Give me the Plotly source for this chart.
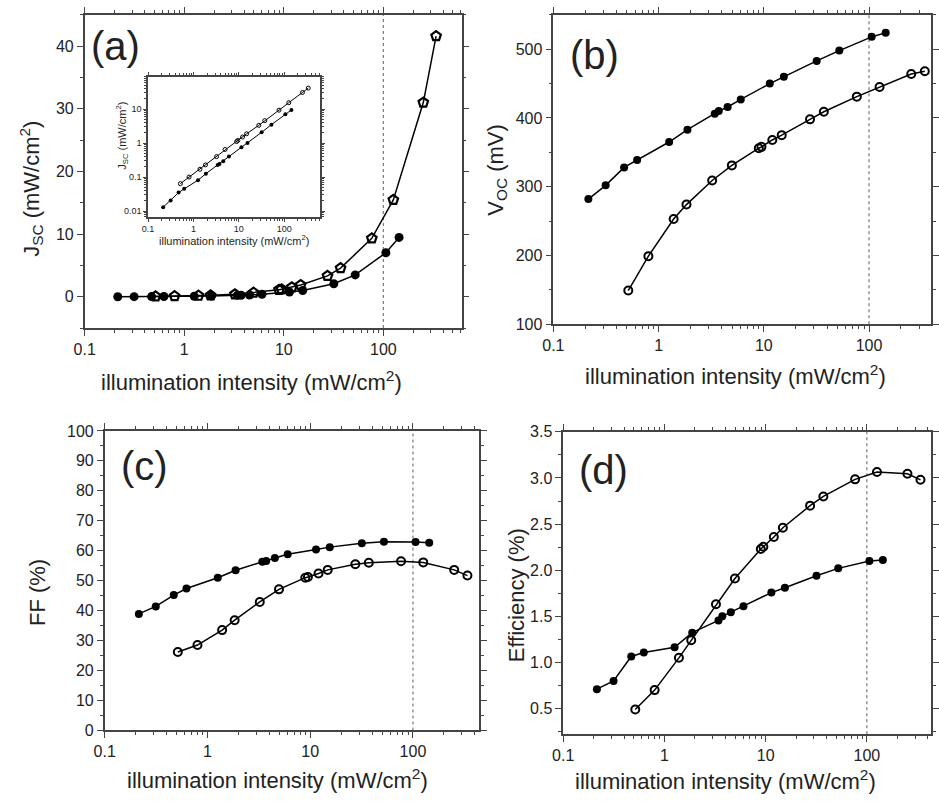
import plotly.graph_objects as go

# ---------------- data ----------------
x_filled = [0.215, 0.314, 0.47, 0.625, 1.26, 1.88, 3.42, 3.73, 4.53, 6.04, 11.4, 15.5, 31.8, 52.2, 106, 144]
x_open = [0.515, 0.80, 1.39, 1.84, 3.23, 4.97, 8.96, 9.5, 12.05, 14.8, 27.5, 37.2, 76.6, 126, 252, 339]

jsc_filled = [0.013, 0.0205, 0.035, 0.045, 0.081, 0.126, 0.228, 0.243, 0.29, 0.40, 0.76, 1.0, 2.08, 3.49, 7.03, 9.48]
jsc_open = [0.064, 0.10, 0.17, 0.228, 0.40, 0.65, 1.11, 1.2, 1.51, 1.88, 3.33, 4.58, 9.32, 15.47, 31.0, 41.6]

voc_filled = [282, 302, 328, 339, 365, 383, 406, 410, 416, 427, 450, 460, 483, 498, 518, 524]
voc_open = [149, 199, 253, 274, 309, 331, 356, 358, 368, 375, 398, 409, 431, 445, 464, 468]

ff_filled = [38.9, 41.4, 45.2, 47.4, 51.0, 53.5, 56.3, 56.6, 57.6, 58.8, 60.4, 61.2, 62.5, 63.0, 62.9, 62.7]
ff_open = [26.2, 28.5, 33.5, 36.8, 42.9, 47.1, 51.0, 51.2, 52.4, 53.6, 55.5, 56.0, 56.5, 56.1, 53.6, 51.7]

eff_filled = [0.71, 0.80, 1.065, 1.107, 1.164, 1.323, 1.456, 1.50, 1.545, 1.61, 1.757, 1.81, 1.94, 2.02, 2.10, 2.11]
eff_open = [0.49, 0.70, 1.05, 1.24, 1.63, 1.91, 2.23, 2.255, 2.36, 2.46, 2.70, 2.80, 2.985, 3.065, 3.045, 2.98]

x_ticks = [0.1, 1, 10, 100]
x_ticktext = ["0.1", "1", "10", "100"]
inset_y_ticks = [0.01, 0.1, 1, 10]
inset_y_ticktext = ["0.01", "0.1", "1", "10"]
x_title = "illumination intensity (mW/cm<sup>2</sup>)"

W, H = 939, 807
FONT = "Liberation Sans, Arial, sans-serif"
TXT = "#222222"
AX = "#444444"


def px(x):
    return x / W


def py(y):
    return 1 - y / H


fig = go.Figure()


def add_pair(xa, ya, xf, yf, xo, yo, size, lw, open_symbol="circle-open", osize=None, olw=2):
    fig.add_trace(go.Scatter(x=xf, y=yf, xaxis=xa, yaxis=ya, mode="lines+markers",
                             line=dict(color="black", width=lw),
                             marker=dict(symbol="circle", size=size, color="black"),
                             showlegend=False))
    fig.add_trace(go.Scatter(x=xo, y=yo, xaxis=xa, yaxis=ya, mode="lines+markers",
                             line=dict(color="black", width=lw),
                             marker=dict(symbol=open_symbol, size=osize or size, color="black",
                                         line=dict(width=olw, color="black")),
                             showlegend=False))


add_pair("x", "y", x_filled, jsc_filled, x_open, jsc_open, 9, 1.5, "pentagon-open", 10, 2.2)
add_pair("x2", "y2", x_filled, voc_filled, x_open, voc_open, 8, 1.5)
add_pair("x3", "y3", x_filled, ff_filled, x_open, ff_open, 8, 1.5)
add_pair("x4", "y4", x_filled, eff_filled, x_open, eff_open, 8, 1.5)
add_pair("x5", "y5", x_filled, jsc_filled, x_open, jsc_open, 4, 1, "circle-open", 4, 1)


def xaxis(dom, rng, anchor, fsize=16, tlen=6, mlen=3):
    return dict(type="log", domain=dom, range=rng, anchor=anchor,
                tickmode="array", tickvals=x_ticks, ticktext=x_ticktext,
                ticks="outside", ticklen=tlen, tickwidth=1.2, tickcolor=AX,
                minor=dict(ticks="outside", ticklen=mlen, tickwidth=1, tickcolor=AX,
                           tickvals=[m * d for d in [0.1, 1, 10, 100] for m in range(2, 10)]),
                showline=True, linecolor=AX, linewidth=1.5, mirror="ticks",
                showgrid=False, zeroline=False,
                tickfont=dict(size=fsize, color=TXT, family=FONT))


def yaxis(dom, rng, anchor, dtick, minor_dtick, fsize=16, ttype="linear", tickvals=None, ticktext=None,
          tlen=6, mlen=3, fmt=None):
    d = dict(type=ttype, domain=dom, range=rng, anchor=anchor,
             ticks="outside", ticklen=tlen, tickwidth=1.2, tickcolor=AX,
             showline=True, linecolor=AX, linewidth=1.5, mirror="ticks",
             showgrid=False, zeroline=False,
             tickfont=dict(size=fsize, color=TXT, family=FONT))
    if fmt:
        d["tickformat"] = fmt
    if tickvals is not None:
        d.update(tickmode="array", tickvals=tickvals, ticktext=ticktext)
        d["minor"] = dict(ticks="outside", ticklen=mlen, tickwidth=1, tickcolor=AX,
                          tickvals=minor_dtick)
    else:
        d.update(dtick=dtick, tick0=0)
        d["minor"] = dict(ticks="outside", ticklen=mlen, tickwidth=1, tickcolor=AX, dtick=minor_dtick)
    return d


fig.update_layout(
    width=W, height=H, margin=dict(l=0, r=0, t=0, b=0),
    paper_bgcolor="white", plot_bgcolor="white",
    font=dict(family=FONT, color=TXT),
    xaxis=xaxis([px(74.7), px(457)], [-1, 2.787], "y"),
    yaxis=yaxis([py(327), py(7)], [-5, 45], "x", 10, 5),
    xaxis2=xaxis([px(550), px(933)], [-1, 2.59], "y2"),
    yaxis2=yaxis([py(323), py(7)], [100, 550], "x2", 100, 50),
    xaxis3=xaxis([px(95), px(475)], [-1, 2.647], "y3"),
    yaxis3=yaxis([py(738), py(432)], [0, 100], "x3", 10, 5),
    xaxis4=xaxis([px(560), px(933)], [-1, 2.635], "y4"),
    yaxis4=yaxis([py(742), py(433)], [0.22, 3.5], "x4", 0.5, 0.25, fmt=".1f"),
    xaxis5=xaxis([px(139), px(313.3)], [-1, 2.787], "y5", fsize=9, tlen=3, mlen=2),
    yaxis5=yaxis([py(213.3), py(70)], [-2.17, 1.96], "x5", None,
                 [m * d for d in [0.001, 0.01, 0.1, 1, 10] for m in range(2, 10)],
                 fsize=9, ttype="log", tickvals=inset_y_ticks,
                 ticktext=inset_y_ticktext, tlen=3, mlen=2),
)

# dotted reference lines at 100 mW/cm2
for xr, yr in [("x", "y"), ("x2", "y2"), ("x3", "y3"), ("x4", "y4"), ("x5", "y5")]:
    fig.add_shape(type="line", xref=xr, yref=yr + " domain", x0=100, x1=100, y0=0, y1=1,
                  line=dict(color="#777777", width=1.2, dash="dot"), layer="below")

ann = []
# panel labels
for txt, x, y in [("(a)", 106, 39), ("(b)", 592, 48), ("(c)", 135, 468), ("(d)", 601, 472)]:
    ann.append(dict(text=txt, x=px(x), y=py(y), xref="paper", yref="paper", showarrow=False,
                    xanchor="center", yanchor="middle", font=dict(size=40, color=TXT, family=FONT)))
# x titles
for x, y in [(244, 381), (735, 375), (270, 788), (725, 789)]:
    ann.append(dict(text=x_title, x=px(x), y=py(y), xref="paper", yref="paper", showarrow=False,
                    xanchor="center", yanchor="middle", font=dict(size=22, color=TXT, family=FONT)))
# y titles
for txt, x, y in [("J<sub>SC</sub> (mW/cm<sup>2</sup>)", 20, 185), ("V<sub>OC</sub> (mV)", 492, 165),
                  ("FF (%)", 27, 597), ("Efficiency (%)", 512, 600)]:
    ann.append(dict(text=txt, x=px(x), y=py(y), xref="paper", yref="paper", showarrow=False,
                    textangle=-90, xanchor="center", yanchor="middle",
                    font=dict(size=22, color=TXT, family=FONT)))
# inset titles
ann.append(dict(text=x_title, x=px(226), y=py(237), xref="paper", yref="paper", showarrow=False,
                xanchor="center", yanchor="middle", font=dict(size=11, color=TXT, family=FONT)))
ann.append(dict(text="J<sub>SC</sub> (mW/cm<sup>2</sup>)", x=px(113), y=py(130), xref="paper", yref="paper",
                showarrow=False, textangle=-90, xanchor="center", yanchor="middle",
                font=dict(size=11, color=TXT, family=FONT)))
fig.update_layout(annotations=ann)

fig.write_html("out.html")
